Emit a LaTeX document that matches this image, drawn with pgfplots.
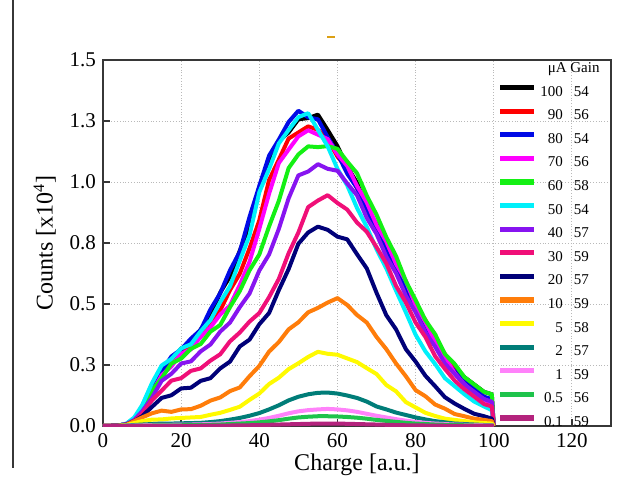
\documentclass[border=0pt]{standalone}
\usepackage{fontspec}
\setmainfont{Liberation Serif}
\usepackage{pgfplots}
\usepackage{pgfplotstable}
\pgfplotsset{compat=1.18}

\definecolor{c100}{RGB}{0,0,0}
\definecolor{c90}{RGB}{255,0,0}
\definecolor{c80}{RGB}{0,10,230}
\definecolor{c70}{RGB}{255,0,255}
\definecolor{c60}{RGB}{20,240,20}
\definecolor{c50}{RGB}{0,240,250}
\definecolor{c40}{RGB}{135,20,240}
\definecolor{c30}{RGB}{240,15,120}
\definecolor{c20}{RGB}{0,0,120}
\definecolor{c10}{RGB}{255,125,10}
\definecolor{c5}{RGB}{255,250,0}
\definecolor{c2}{RGB}{0,125,120}
\definecolor{c1}{RGB}{255,130,250}
\definecolor{c05}{RGB}{30,195,75}
\definecolor{c01}{RGB}{180,35,125}
\definecolor{frame}{RGB}{55,55,55}

% counts in units of 10^4, one column per beam current
\pgfplotstableread{
x    a100  a90   a80   a70   a60   a50   a40   a30  a20  a10  a5   a2   a1   a05  a01
0    0     0     0     0     0     0     0     0    0    0    0    0    0    0    0
4    .002  .002  .002  .002  .002  .002  .002  .002 .002 .001 .001 0    0    0    0
6    .008  .008  .008  .008  .008  .010  .008  .007 .006 .005 .004 .002 .001 .001 0
8    .030  .030  .030  .030  .030  .035  .025  .020 .020 .020 .012 .004 .002 .001 0
10   .075  .075  .080  .070  .070  .085  .060  .050 .040 .035 .020 .006 .003 .002 .001
12.5 .150  .155  .165  .135  .145  .175  .115  .105 .078 .052 .026 .008 .004 .002 .001
15   .228  .205  .225  .208  .195  .248  .185  .145 .115 .063 .027 .010 .005 .003 .001
17.5 .262  .268  .285  .244  .256  .275  .214  .186 .126 .058 .031 .010 .005 .003 .001
20   .318  .296  .314  .296  .276  .318  .256  .196 .154 .068 .033 .011 .006 .003 .001
22.5 .336  .336  .358  .314  .316  .335  .265  .226 .157 .069 .035 .012 .006 .004 .001
25   .396  .365  .394  .366  .336  .388  .306  .236 .185 .083 .037 .013 .007 .004 .001
27.5 .452  .427  .478  .404  .387  .434  .334  .268 .196 .104 .046 .016 .008 .005 .002
30   .547  .474  .544  .457  .414  .508  .387  .294 .236 .117 .054 .020 .010 .006 .002
32.5 .613  .557  .638  .494  .487  .573  .424  .347 .264 .143 .066 .026 .013 .008 .002
35   .718  .624  .714  .578  .553  .677  .487  .383 .326 .158 .079 .033 .016 .010 .003
37.5 .822  .728  .857  .673  .638  .782  .543  .428 .354 .204 .107 .042 .020 .012 .003
40   .978  .843  .984  .808  .703  .958  .637  .463 .417 .246 .133 .053 .026 .015 .004
42.5 1.072 1.008 1.108 .952  .818  1.053 .703  .528 .463 .305 .172 .068 .033 .019 .005
45   1.168 1.092 1.174 1.078 .923  1.158 .808  .603 .557 .344 .198 .085 .042 .024 .006
47.5 1.203 1.178 1.246 1.133 1.057 1.213 .933  .708 .643 .396 .233 .105 .052 .030 .007
50   1.257 1.203 1.292 1.187 1.113 1.266 1.027 .793 .747 .425 .257 .120 .060 .035 .008
52.5 1.262 1.228 1.265 1.212 1.146 1.282 1.043 .897 .793 .466 .283 .130 .065 .038 .009
55   1.276 1.214 1.257 1.194 1.143 1.214 1.073 .924 .817 .484 .304 .136 .068 .040 .010
57.5 1.213 1.176 1.184 1.176 1.147 1.146 1.054 .946 .804 .506 .296 .137 .070 .040 .010
60   1.147 1.104 1.116 1.113 1.136 1.054 1.046 .914 .776 .524 .292 .133 .068 .039 .010
62.5 1.063 1.056 1.034 1.066 1.084 .986  .994  .887 .765 .496 .277 .125 .064 .037 .009
65   .997  .974  .976  .984  1.036 .894  .946  .834 .704 .455 .262 .115 .058 .034 .008
67.5 .893  .906  .884  .916  .944  .816  .853  .796 .646 .424 .237 .100 .050 .030 .007
70   .827  .814  .806  .824  .866  .724  .787  .733 .546 .365 .213 .080 .042 .025 .006
72.5 .734  .746  .714  .756  .774  .646  .694  .666 .454 .315 .168 .068 .035 .021 .005
75   .666  .654  .656  .664  .696  .554  .626  .574 .396 .256 .142 .055 .028 .017 .004
77.5 .574  .586  .564  .596  .594  .466  .534  .506 .315 .204 .098 .045 .022 .013 .003
80   .496  .494  .486  .494  .516  .374  .466  .424 .264 .147 .076 .035 .017 .010 .003
82.5 .414  .435  .404  .426  .434  .306  .384  .365 .206 .122 .054 .027 .013 .008 .002
85   .355  .354  .345  .345  .376  .254  .325  .286 .163 .088 .041 .020 .010 .006 .002
87.5 .285  .295  .266  .284  .295  .196  .256  .234 .118 .071 .030 .015 .008 .005 .001
90   .244  .226  .224  .216  .254  .163  .213  .186 .092 .049 .025 .010 .006 .004 .001
92.5 .200  .190  .180  .170  .200  .130  .170  .150 .070 .040 .020 .008 .005 .003 .001
95   .170  .150  .150  .130  .170  .100  .140  .120 .050 .030 .015 .006 .004 .002 .001
97.5 .140  .120  .120  .110  .140  .080  .110  .090 .040 .025 .012 .004 .003 .002 .001
99.5 .130  .100  .110  .090  .130  .065  .100  .080 .030 .020 .010 .003 .002 .001 .001
100  0     0     0     0     0     0     0     0    0    0    0    0    0    0    0
}\spectra

\newcommand{\entry}[2]{\makebox[11pt][r]{#1}\hspace{5.5pt}#2}

\begin{document}
\begin{tikzpicture}
\useasboundingbox (0,0) rectangle (308.5pt,239pt);
% screenshot leftovers
\draw[frame, line width=0.8pt] (6.5pt,239pt) -- (6.5pt,5pt);
\draw[color={rgb,255:red,220;green,160;blue,20}, line width=1.1pt] (163.5pt,220.5pt) -- (167.5pt,220.5pt);

\begin{axis}[
    at={(51.5pt,26pt)}, anchor=south west,
    scale only axis, width=254pt, height=183pt,
    xmin=0, xmax=130, ymin=0, ymax=1.5,
    xtick={0,20,40,60,80,100,120},
    ytick={0,0.25,0.5,0.75,1,1.25,1.5},
    yticklabels={0.0,0.3,0.5,0.8,1.0,1.3,1.5},
    /pgf/number format/assume math mode=true,
    tick align=inside, tick pos=left, major tick length=3.5pt,
    tick style={frame, line width=0.8pt},
    grid=major, grid style={densely dotted, gray!55, line width=0.5pt},
    axis line style={frame, line width=1pt},
    ticklabel style={font=\fontsize{10.5}{12}\selectfont},
    label style={font=\fontsize{12}{14}\selectfont},
    xlabel={Charge [a.u.]}, ylabel={Counts [x10\textsuperscript{4}]},
    xlabel style={yshift=3.5pt},
    every axis plot/.append style={line width=2pt, line join=round},
    legend style={at={(rel axis cs:0.776,1)}, anchor=north west,
        draw=none, fill=none, inner sep=0pt,
        font=\fontsize{7.5}{8}\selectfont, row sep=3.8pt,
        nodes={inner ysep=0pt, text height=6pt, text depth=2pt}},
    legend cell align=left,
    legend image code/.code={\draw[#1, line width=2.6pt] (0pt,2.2pt) -- (17pt,2.2pt);},
]
\addlegendimage{empty legend}
\addlegendentry{\hspace{3.5pt}μA Gain}
\addplot[c100] table[y=a100] {\spectra}; \addlegendentry{\entry{100}{54}}
\addplot[c90]  table[y=a90]  {\spectra}; \addlegendentry{\entry{90}{56}}
\addplot[c80]  table[y=a80]  {\spectra}; \addlegendentry{\entry{80}{54}}
\addplot[c70]  table[y=a70]  {\spectra}; \addlegendentry{\entry{70}{56}}
\addplot[c60]  table[y=a60]  {\spectra}; \addlegendentry{\entry{60}{58}}
\addplot[c50]  table[y=a50]  {\spectra}; \addlegendentry{\entry{50}{54}}
\addplot[c40]  table[y=a40]  {\spectra}; \addlegendentry{\entry{40}{57}}
\addplot[c30]  table[y=a30]  {\spectra}; \addlegendentry{\entry{30}{59}}
\addplot[c20]  table[y=a20]  {\spectra}; \addlegendentry{\entry{20}{57}}
\addplot[c10]  table[y=a10]  {\spectra}; \addlegendentry{\entry{10}{59}}
\addplot[c5]   table[y=a5]   {\spectra}; \addlegendentry{\entry{5}{58}}
\addplot[c2]   table[y=a2]   {\spectra}; \addlegendentry{\entry{2}{57}}
\addplot[c1]   table[y=a1]   {\spectra}; \addlegendentry{\entry{1}{59}}
\addplot[c05]  table[y=a05]  {\spectra}; \addlegendentry{\entry{0.5}{56}}
\addplot[c01]  table[y=a01]  {\spectra}; \addlegendentry{\entry{0.1}{59}}
\end{axis}
\end{tikzpicture}
\end{document}
